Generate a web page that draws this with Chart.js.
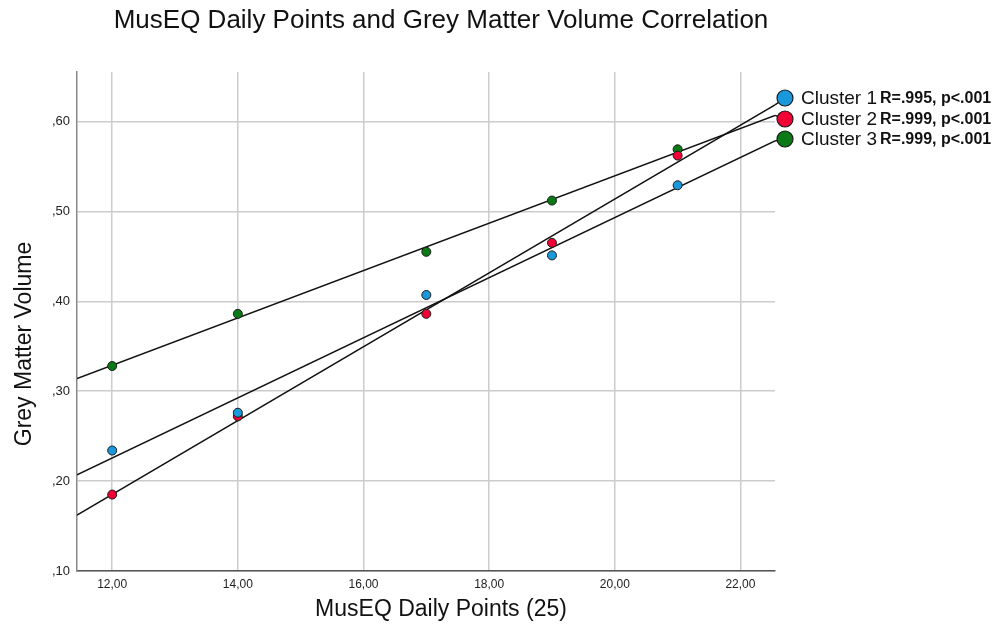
<!DOCTYPE html>
<html>
<head>
<meta charset="utf-8">
<script src="https://cdn.jsdelivr.net/npm/chart.js@4.4.1/dist/chart.umd.min.js"></script>
<style>
    body { margin: 0; background: #fff; }
    #wrap { width: 994px; height: 630px; position: relative; }
</style>
</head>
<body>
<div id="wrap"><canvas id="myChart"></canvas></div>
<script>
// Data
const xValues = [12, 14, 17, 19, 21];
const cluster1 = [0.234, 0.276, 0.407, 0.451, 0.529];
const cluster2 = [0.185, 0.272, 0.386, 0.465, 0.562];
const cluster3 = [0.328, 0.386, 0.455, 0.512, 0.569];

const clusterNames = ['Cluster 1', 'Cluster 2', 'Cluster 3'];
const clusterStats = ['R=.995, p<.001', 'R=.999, p<.001', 'R=.999, p<.001'];
const clusterColors = ['#1a98dc', '#f20035', '#0b7a16'];

const xTicks = [12, 14, 16, 18, 20, 22];
const xTickLabels = ['12,00', '14,00', '16,00', '18,00', '20,00', '22,00'];
const yTicks = [0.1, 0.2, 0.3, 0.4, 0.5, 0.6];
const yTickLabels = [',10', ',20', ',30', ',40', ',50', ',60'];

const xMin = 11.44, xMax = 22.55;
const yMin = 0.10, yMax = 0.655;

const FONT = '"Liberation Sans", Arial, sans-serif';

// least squares fit
function fit(xs, ys) {
    const n = xs.length;
    const mx = xs.reduce((a, b) => a + b, 0) / n;
    const my = ys.reduce((a, b) => a + b, 0) / n;
    let sxy = 0, sxx = 0;
    for (let i = 0; i < n; i++) {
        sxy += (xs[i] - mx) * (ys[i] - my);
        sxx += (xs[i] - mx) * (xs[i] - mx);
    }
    const b = sxy / sxx;
    return { a: my - b * mx, b: b };
}

const seriesList = [cluster1, cluster2, cluster3];
const fits = seriesList.map(s => fit(xValues, s));

const datasets = [];
seriesList.forEach((s, i) => {
    datasets.push({
        type: 'scatter',
        label: clusterNames[i],
        data: xValues.map((x, j) => ({ x: x, y: s[j] })),
        backgroundColor: clusterColors[i],
        borderColor: '#1a1a1a',
        borderWidth: 1,
        pointRadius: 4.5,
        order: 1
    });
});
fits.forEach((f, i) => {
    datasets.push({
        type: 'line',
        label: 'fit' + (i + 1),
        data: [{ x: xMin, y: f.a + f.b * xMin }, { x: xMax, y: f.a + f.b * xMax }],
        borderColor: '#111',
        borderWidth: 1.5,
        pointRadius: 0,
        fill: false,
        order: 2
    });
});

// Titles + legend with leader lines
const decorations = {
    id: 'decorations',
    afterDraw(chart) {
        const ctx = chart.ctx;
        const xs = chart.scales.x, ys = chart.scales.y;
        ctx.save();
        ctx.fillStyle = '#111';
        ctx.textBaseline = 'middle';
        ctx.textAlign = 'center';
        ctx.font = '26px ' + FONT;
        ctx.fillText('MusEQ Daily Points and Grey Matter Volume Correlation', 441, 21);
        ctx.font = '23px ' + FONT;
        ctx.fillText('MusEQ Daily Points (25)', 441, 610);
        ctx.save();
        ctx.translate(25, 344);
        ctx.rotate(-Math.PI / 2);
        ctx.fillText('Grey Matter Volume', 0, 0);
        ctx.restore();

        // legend markers
        const mx = 785;
        const markerY = [98, 119, 139];
        // leader lines from right end of each fit to markers, ordered top to bottom
        const ends = fits.map(f => ({ px: xs.getPixelForValue(xMax), py: ys.getPixelForValue(f.a + f.b * xMax) }))
            .sort((p, q) => p.py - q.py);
        ctx.strokeStyle = '#111';
        ctx.lineWidth = 1.5;
        ends.forEach((e, i) => {
            ctx.beginPath();
            ctx.moveTo(e.px, e.py);
            ctx.lineTo(mx, markerY[i]);
            ctx.stroke();
        });
        clusterNames.forEach((name, i) => {
            ctx.beginPath();
            ctx.arc(mx, markerY[i], 8, 0, Math.PI * 2);
            ctx.fillStyle = clusterColors[i];
            ctx.fill();
            ctx.lineWidth = 1.2;
            ctx.strokeStyle = '#1a1a1a';
            ctx.stroke();
            ctx.fillStyle = '#111';
            ctx.textAlign = 'left';
            ctx.font = '19px ' + FONT;
            ctx.fillText(name, 801, markerY[i] + 1);
            const w = ctx.measureText(name).width;
            ctx.font = 'bold 16px ' + FONT;
            ctx.fillText(clusterStats[i], 801 + w + 3, markerY[i] + 1);
        });
        ctx.restore();
    }
};

const ctx = document.getElementById('myChart').getContext('2d');
const myChart = new Chart(ctx, {
    data: { datasets: datasets },
    plugins: [decorations],
    options: {
        responsive: true,
        maintainAspectRatio: false,
        animation: false,
        layout: { padding: { top: 72, right: 219, left: 0, bottom: 0 } },
        plugins: {
            legend: { display: false },
            tooltip: { enabled: false },
            title: { display: false }
        },
        scales: {
            x: {
                type: 'linear',
                min: xMin,
                max: xMax,
                afterBuildTicks: s => { s.ticks = xTicks.map(v => ({ value: v })); },
                afterFit: s => { s.height = 59; },
                grid: { color: '#cccccc', lineWidth: 1.5, drawTicks: false },
                border: { color: '#555', width: 1.5 },
                ticks: {
                    padding: 6,
                    autoSkip: false,
                    maxRotation: 0,
                    color: '#222',
                    font: { family: FONT, size: 12 },
                    callback: (v, i) => xTickLabels[i]
                }
            },
            y: {
                type: 'linear',
                min: yMin,
                max: yMax,
                afterBuildTicks: s => { s.ticks = yTicks.map(v => ({ value: v })); },
                afterFit: s => { s.width = 77; },
                grid: { color: '#cccccc', lineWidth: 1.5, drawTicks: false },
                border: { color: '#888', width: 1.5 },
                ticks: {
                    padding: 7,
                    color: '#222',
                    font: { family: FONT, size: 13 },
                    callback: (v, i) => yTickLabels[i]
                }
            }
        }
    }
});
</script>
</body>
</html>
